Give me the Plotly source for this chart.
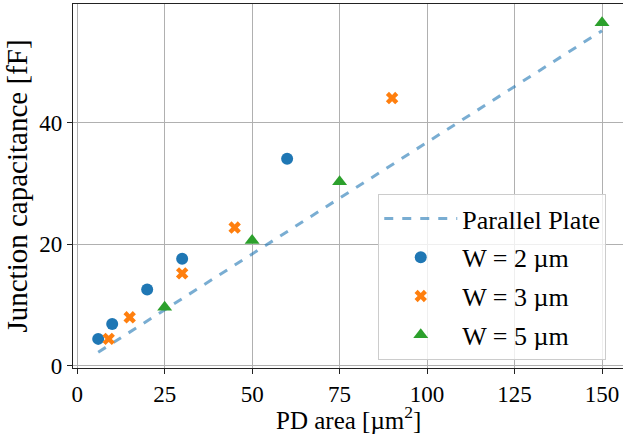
import plotly.graph_objects as go

# Data
line_x = [6, 150]
line_y = [2.2, 55.2]

w2_x = [6, 10, 20, 30, 60]
w2_y = [4.4, 6.85, 12.55, 17.6, 34.1]

w3_x = [9, 15, 30, 45, 90]
w3_y = [4.4, 7.95, 15.2, 22.75, 44.1]

w5_x = [25, 50, 75, 150]
w5_y = [9.6, 20.6, 30.3, 56.5]

xticks = [0, 25, 50, 75, 100, 125, 150]
yticks = [0, 20, 40]

FONT = "Liberation Serif"

fig = go.Figure()
fig.add_trace(go.Scatter(x=line_x, y=line_y, mode="lines", name="Parallel Plate",
                         legendgroup="a",
                         line=dict(color="rgba(31,119,180,0.6)", width=3, dash="dash")))
fig.add_trace(go.Scatter(x=w2_x, y=w2_y, mode="markers", name="W = 2 µm", legendgroup="b",
                         marker=dict(color="#1f77b4", size=12, symbol="circle")))
fig.add_trace(go.Scatter(x=w3_x, y=w3_y, mode="markers", name="W = 3 µm", legendgroup="c",
                         marker=dict(color="#ff7f0e", size=11, symbol="x")))
fig.add_trace(go.Scatter(x=w5_x, y=w5_y, mode="markers", name="W = 5 µm", legendgroup="d",
                         marker=dict(color="#2ca02c", size=13, symbol="triangle-up")))

fig.update_layout(
    width=623, height=435,
    margin=dict(l=73, r=0, t=4, b=67),
    plot_bgcolor="white", paper_bgcolor="white",
    font=dict(family=FONT, size=23, color="black"),
    legend=dict(x=0.555, y=0.478, xanchor="left", yanchor="top",
                bgcolor="rgba(255,255,255,0.8)", bordercolor="#cccccc", borderwidth=1,
                font=dict(family=FONT, size=26), tracegroupgap=2,
                itemwidth=73),
    showlegend=True,
    annotations=[dict(text="PD area [µm<sup>2</sup>]", xref="paper", yref="paper",
                      x=0.5, y=-0.186, xanchor="center", yanchor="bottom",
                      showarrow=False, font=dict(family=FONT, size=25))],
)
fig.update_xaxes(range=[-1.2, 156.0], tickvals=xticks, showgrid=True, gridcolor="#b0b0b0",
                 gridwidth=1, showline=True, linecolor="#222", linewidth=1.2, mirror=True,
                 ticks="outside", ticklen=5, tickcolor="#222", zeroline=False,
                 automargin=False,
                 tickfont=dict(size=23))
fig.update_yaxes(range=[-0.4, 59.6], tickvals=yticks, showgrid=True, gridcolor="#b0b0b0",
                 gridwidth=1, showline=True, linecolor="#222", linewidth=1.2, mirror=False,
                 ticks="outside", ticklen=5, tickcolor="#222", zeroline=False,
                 automargin=True,
                 title=dict(text="Junction capacitance [fF]", font=dict(size=29), standoff=3),
                 tickfont=dict(size=23))

fig.write_html("out.html", config={"displayModeBar": False},
               post_script="document.body.style.margin='0';document.body.style.overflow='hidden';")
